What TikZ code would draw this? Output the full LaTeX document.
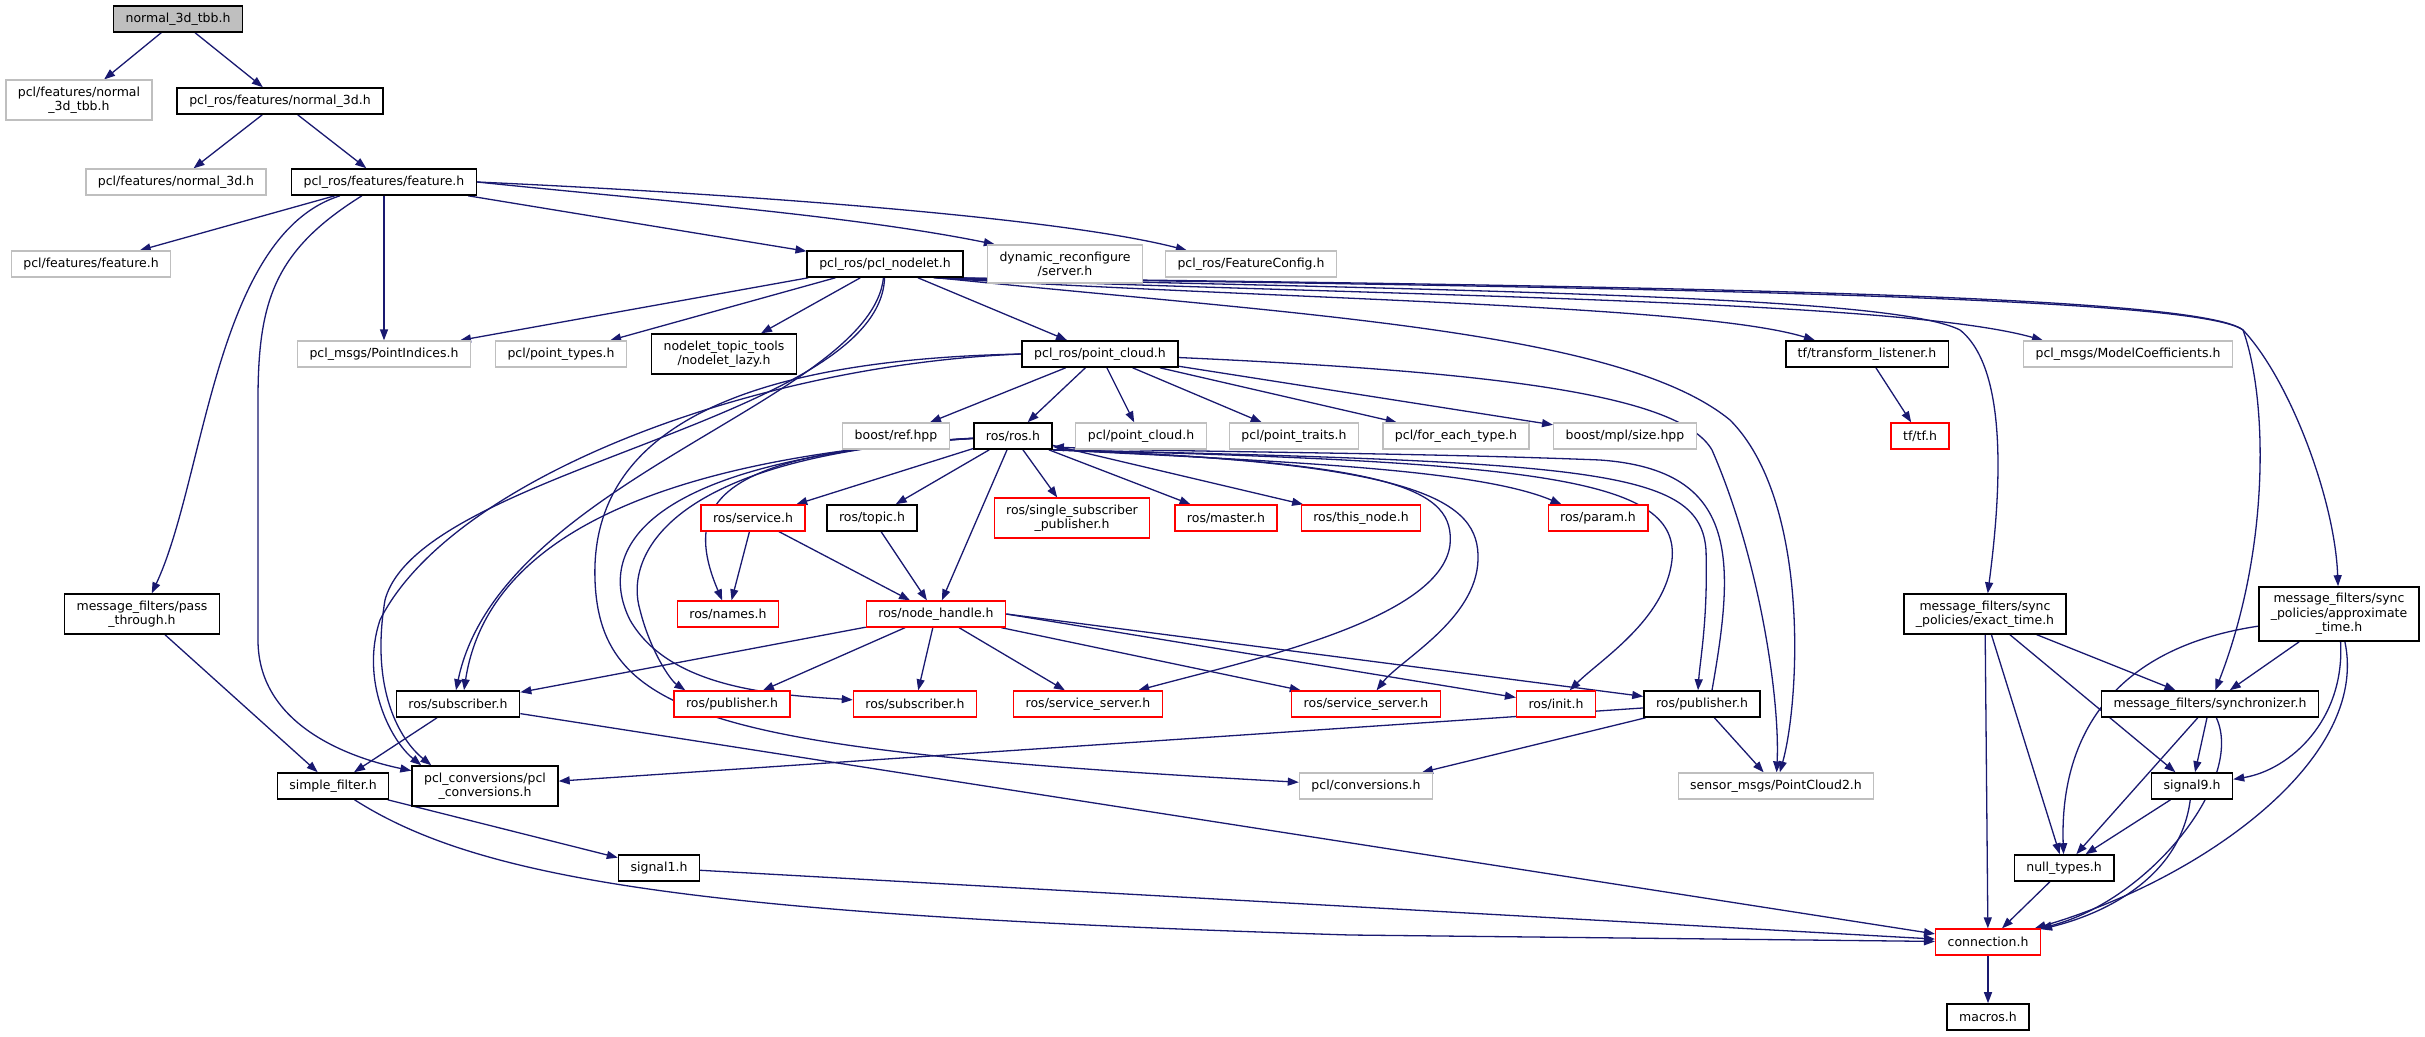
\documentclass[tikz,border=0pt]{standalone}
\usepackage{fontspec}
\setmainfont{DejaVu Sans}
\usepackage{xcolor}
\usepackage{tikz}
\usetikzlibrary{arrows.meta, positioning, backgrounds}
\definecolor{edgeblue}{RGB}{25,25,112}
\definecolor{extgray}{RGB}{191,191,191}
\definecolor{missred}{RGB}{255,0,0}
\tikzset{
    filebox/.style={rectangle, draw=black, line width=1.6pt, fill=white, align=center, inner xsep=12pt, inner ysep=6.5pt, minimum height=26pt, font=\fontsize{12.5}{14.3}\selectfont},
    rootbox/.style={filebox, fill=extgray},
    extbox/.style={filebox, draw=extgray, line width=1.3pt},
    missbox/.style={filebox, draw=missred, line width=1.3pt},
    incl/.style={->, >={Triangle[length=11pt,width=8pt]}, draw=edgeblue, line width=1.3pt}
}
\begin{document}
\begin{tikzpicture}[x=1pt, y=-1pt]
    \useasboundingbox (0,0) rectangle (2425,1036);
    % Top levels
    \node[rootbox] (root) at (178,19) {normal\_3d\_tbb.h};
    \node[extbox] (n3dtbb) at (79,100) {pcl/features/normal\\\_3d\_tbb.h};
    \node[filebox] (rosnormal) at (280,101) {pcl\_ros/features/normal\_3d.h};
    \node[extbox] (pclnormal) at (176,182) {pcl/features/normal\_3d.h};
    \node[filebox] (rosfeature) at (384,182) {pcl\_ros/features/feature.h};
    \node[extbox] (pclfeature) at (91,264) {pcl/features/feature.h};
    \node[filebox] (nodelet) at (885,264) {pcl\_ros/pcl\_nodelet.h};
    \node[extbox] (dynrec) at (1065,264) {dynamic\_reconfigure\\/server.h};
    \node[extbox] (featcfg) at (1251,264) {pcl\_ros/FeatureConfig.h};

    % Nodelet includes
    \node[extbox] (pointidx) at (384,354) {pcl\_msgs/PointIndices.h};
    \node[extbox] (pointtypes) at (561,354) {pcl/point\_types.h};
    \node[filebox] (nodeletlazy) at (724,354) {nodelet\_topic\_tools\\/nodelet\_lazy.h};
    \node[filebox] (rospc) at (1100,354) {pcl\_ros/point\_cloud.h};
    \node[filebox] (tflist) at (1867,354) {tf/transform\_listener.h};
    \node[extbox] (modelcoef) at (2128,354) {pcl\_msgs/ModelCoefficients.h};

    % Point cloud includes
    \node[extbox] (boostref) at (896,436) {boost/ref.hpp};
    \node[filebox] (rosh) at (1013,436) {ros/ros.h};
    \node[extbox] (pclpc) at (1141,436) {pcl/point\_cloud.h};
    \node[extbox] (traits) at (1294,436) {pcl/point\_traits.h};
    \node[extbox] (foreach) at (1456,436) {pcl/for\_each\_type.h};
    \node[extbox] (mplsize) at (1625,436) {boost/mpl/size.hpp};
    \node[missbox] (tfh) at (1920,436) {tf/tf.h};

    % ros.h includes
    \node[missbox] (service) at (753,518) {ros/service.h};
    \node[filebox] (topic) at (872,518) {ros/topic.h};
    \node[missbox] (ssp) at (1072,518) {ros/single\_subscriber\\\_publisher.h};
    \node[missbox] (master) at (1226,518) {ros/master.h};
    \node[missbox] (thisnode) at (1361,518) {ros/this\_node.h};
    \node[missbox] (param) at (1598,518) {ros/param.h};
    \node[filebox] (passthrough) at (142,614) {message\_filters/pass\\\_through.h};
    \node[missbox] (names) at (728,614) {ros/names.h};
    \node[missbox] (nodehandle) at (936,614) {ros/node\_handle.h};
    \node[filebox] (exact) at (1985,614) {message\_filters/sync\\\_policies/exact\_time.h};
    \node[filebox] (approx) at (2339,614) {message\_filters/sync\\\_policies/approximate\\\_time.h};

    % Node handle includes
    \node[filebox] (subblk) at (458,704) {ros/subscriber.h};
    \node[missbox] (pubred) at (732,704) {ros/publisher.h};
    \node[missbox] (subred) at (915,704) {ros/subscriber.h};
    \node[missbox] (srvone) at (1088,704) {ros/service\_server.h};
    \node[missbox] (srvtwo) at (1366,704) {ros/service\_server.h};
    \node[missbox] (init) at (1556,704) {ros/init.h};
    \node[filebox] (pubblk) at (1702,704) {ros/publisher.h};
    \node[filebox] (sync) at (2210,704) {message\_filters/synchronizer.h};

    % Bottom levels
    \node[filebox] (simple) at (333,786) {simple\_filter.h};
    \node[filebox] (pclconv) at (485,786) {pcl\_conversions/pcl\\\_conversions.h};
    \node[extbox] (conv) at (1366,786) {pcl/conversions.h};
    \node[extbox] (pctwo) at (1776,786) {sensor\_msgs/PointCloud2.h};
    \node[filebox] (signalnine) at (2192,786) {signal9.h};
    \node[filebox] (signalone) at (659,868) {signal1.h};
    \node[filebox] (nulltypes) at (2064,868) {null\_types.h};
    \node[missbox] (connection) at (1988,942) {connection.h};
    \node[filebox] (macros) at (1988,1017) {macros.h};

    \begin{scope}[on background layer]
    % Root and feature
    \draw[incl] (root) -- (n3dtbb);
    \draw[incl] (root) -- (rosnormal);
    \draw[incl] (rosnormal) -- (pclnormal);
    \draw[incl] (rosnormal) -- (rosfeature);
    \draw[incl] (rosfeature) -- (pclfeature);
    \draw[incl] (rosfeature) .. controls (215,235) and (205,480) .. (passthrough);
    \draw[incl] (rosfeature) .. controls (275,250) and (258,300) .. (258,400) -- (258,640) .. controls (258,730) and (360,760) .. (pclconv);
    \draw[incl] (rosfeature) -- (pointidx);
    \draw[incl] (rosfeature) -- (nodelet);
    \draw[incl] (rosfeature.east) .. controls (650,200) and (850,215) .. ([xshift=8pt]dynrec.north west);
    \draw[incl] (rosfeature.east) .. controls (700,192) and (1050,215) .. ([xshift=22pt]featcfg.north west);

    % Nodelet
    \draw[incl] (nodelet) -- (pointidx);
    \draw[incl] (nodelet) -- (pointtypes);
    \draw[incl] (nodelet) -- (nodeletlazy);
    \draw[incl] (nodelet) -- (rospc);
    \draw[incl] (nodelet) .. controls (870,400) and (500,480) .. ([xshift=-2pt]subblk.north);
    \draw[incl] (nodelet) .. controls (880,420) and (420,470) .. (385,600) .. controls (370,690) and (400,740) .. ([xshift=20pt]pclconv.north west);
    \draw[incl] ([xshift=-30pt]nodelet.south east) .. controls (1300,300) and (1700,305) .. ([xshift=30pt]tflist.north west);
    \draw[incl] ([xshift=-28pt]nodelet.south east) .. controls (1400,296) and (1900,300) .. ([xshift=20pt]modelcoef.north west);
    \draw[incl] ([xshift=-26pt]nodelet.south east) .. controls (1300,315) and (1620,330) .. (1730,420) .. controls (1810,500) and (1800,700) .. (pctwo);
    \draw[incl] ([xshift=-24pt]nodelet.south east) .. controls (1600,292) and (1900,300) .. (1960,330) .. controls (2010,370) and (2000,500) .. (exact);
    \draw[incl] ([xshift=-22pt]nodelet.south east) .. controls (1700,288) and (2200,298) .. (2243,330) .. controls (2268,400) and (2270,550) .. (sync);
    \draw[incl] ([xshift=-20pt]nodelet.south east) .. controls (1700,286) and (2200,296) .. (2243,330) .. controls (2290,380) and (2335,500) .. (approx);
    \draw[incl] (tflist) -- (tfh);

    % Point cloud
    \draw[incl] (rospc) -- (boostref);
    \draw[incl] (rospc) -- (rosh);
    \draw[incl] (rospc) -- (pclpc);
    \draw[incl] (rospc) -- (traits);
    \draw[incl] (rospc) -- (foreach);
    \draw[incl] (rospc) -- (mplsize);
    \draw[incl] (rospc) .. controls (1500,372) and (1680,395) .. (1712,450) .. controls (1760,560) and (1780,700) .. (pctwo);
    \draw[incl] (rospc.west) .. controls (750,365) and (450,480) .. (380,620) .. controls (360,680) and (390,740) .. ([xshift=10pt]pclconv.north west);
    \draw[incl] (rospc.west) .. controls (720,360) and (590,440) .. (595,580) .. controls (600,720) and (720,750) .. (conv);

    % ros.h
    \draw[incl] (rosh) -- (service);
    \draw[incl] (rosh) -- (topic);
    \draw[incl] (rosh) -- (nodehandle);
    \draw[incl] (rosh) -- (ssp);
    \draw[incl] (rosh) -- (master);
    \draw[incl] (rosh) -- (thisnode);
    \draw[incl] (rosh.south east) .. controls (1300,462) and (1480,470) .. ([xshift=14pt]param.north west);
    \draw[incl] (rosh) .. controls (740,452) and (675,490) .. (names);
    \draw[incl] (rosh) .. controls (660,455) and (625,560) .. (640,610) .. controls (650,650) and (670,680) .. ([xshift=12pt]pubred.north west);
    \draw[incl] (rosh) .. controls (620,460) and (600,560) .. (630,620) .. controls (670,690) and (780,695) .. (subred);
    \draw[incl] (rosh) .. controls (700,455) and (490,520) .. ([xshift=6pt]subblk.north);
    \draw[incl] (rosh.south east) .. controls (1400,462) and (1455,490) .. (1450,545) .. controls (1440,620) and (1250,660) .. (srvone);
    \draw[incl] (rosh.south east) .. controls (1420,462) and (1480,500) .. (1478,560) .. controls (1476,620) and (1400,660) .. (srvtwo);
    \draw[incl] (rosh.south east) .. controls (1550,462) and (1680,480) .. (1672,560) .. controls (1665,620) and (1600,660) .. (init);
    \draw[incl] (rosh.south east) .. controls (1600,462) and (1700,470) .. (1706,550) .. controls (1708,620) and (1700,660) .. ([xshift=-4pt]pubblk.north);
    \draw[incl] ([xshift=10pt]pubblk.north) .. controls (1735,560) and (1740,470) .. (1600,460) .. controls (1400,452) and (1150,452) .. ([yshift=3pt]rosh.south east);

    % Service, topic, node handle
    \draw[incl] (service) -- (names);
    \draw[incl] (service) -- (nodehandle);
    \draw[incl] (topic) -- (nodehandle);
    \draw[incl] (nodehandle) -- (subblk);
    \draw[incl] (nodehandle) -- (pubred);
    \draw[incl] (nodehandle) -- (subred);
    \draw[incl] (nodehandle) -- (srvone);
    \draw[incl] (nodehandle) -- (srvtwo);
    \draw[incl] (nodehandle.east) -- (init);
    \draw[incl] (nodehandle.east) -- (pubblk);

    % Publisher
    \draw[incl] (pubblk) -- (pclconv);
    \draw[incl] (pubblk) -- (conv);
    \draw[incl] (pubblk) -- (pctwo);

    % Filters and signals
    \draw[incl] (passthrough) -- (simple);
    \draw[incl] (subblk) -- (simple);
    \draw[incl] (subblk) -- (connection);
    \draw[incl] (simple) -- (signalone);
    \draw[incl] (simple) .. controls (480,880) and (700,915) .. (1350,935) -- (connection);
    \draw[incl] (signalone) -- (connection);
    \draw[incl] (exact) -- (connection);
    \draw[incl] (exact) -- (nulltypes);
    \draw[incl] (exact) -- (signalnine);
    \draw[incl] (exact) -- (sync);
    \draw[incl] (approx) -- (sync);
    \draw[incl] (approx) .. controls (2345,720) and (2290,770) .. (signalnine);
    \draw[incl] (approx) .. controls (2100,650) and (2060,750) .. (nulltypes);
    \draw[incl] (approx) .. controls (2370,760) and (2200,880) .. (connection);
    \draw[incl] (sync) -- (signalnine);
    \draw[incl] (sync) -- (nulltypes);
    \draw[incl] (sync) .. controls (2245,780) and (2150,900) .. (connection);
    \draw[incl] (signalnine) -- (nulltypes);
    \draw[incl] (signalnine) .. controls (2180,880) and (2100,915) .. (connection);
    \draw[incl] (nulltypes) -- (connection);
    \draw[incl] (connection) -- (macros);
    \end{scope}
\end{tikzpicture}
\end{document}
